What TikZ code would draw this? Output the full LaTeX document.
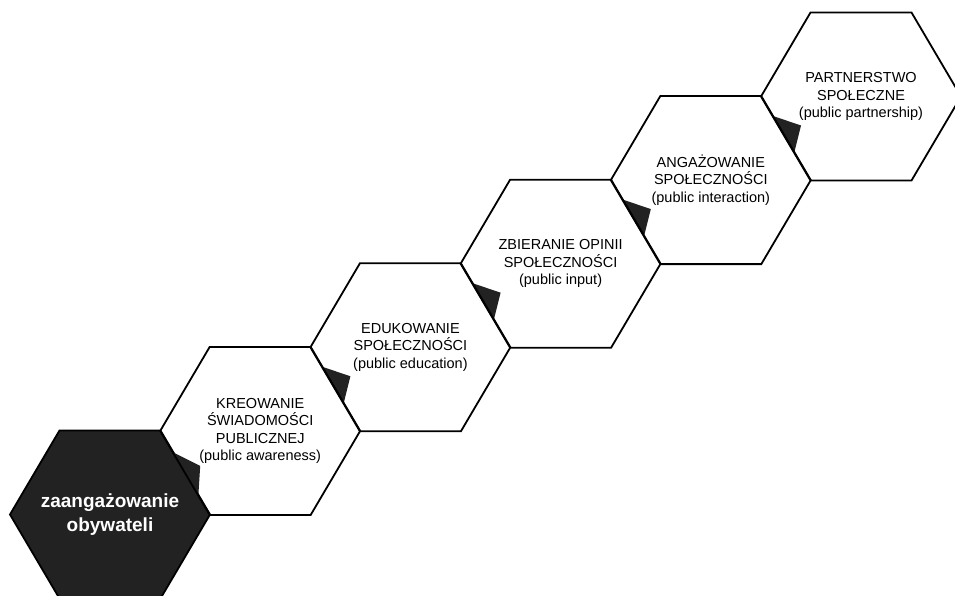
\documentclass[tikz,border=0pt]{standalone}
\usepackage{fontspec}
\setmainfont{Liberation Sans}
\usetikzlibrary{calc}
\definecolor{hexdark}{HTML}{222222}
\tikzset{
  hexagon/.pic={\path[pic actions] (-100,0) -- (-50.5,-84) -- (50.5,-84) -- (100,0) -- (50.5,84) -- (-50.5,84) -- cycle;},
  tailpic/.pic={\path[pic actions] (-88.6,19.3) -- (-60,29) -- (-66.8,56.3) -- cycle;},
  hexline/.style={draw=black, line width=1.8pt, line join=miter},
  hexdarkfill/.style={draw=black, line width=1.8pt, fill=hexdark},
  wedge/.style={fill=hexdark},
  hexlabel/.style={align=center, font=\fontsize{14.5}{17.5}\selectfont, text=black, inner sep=0pt},
  darklabel/.style={align=center, font=\fontsize{19}{24}\selectfont\bfseries, text=white, inner sep=0pt}
}
\begin{document}
\begin{tikzpicture}[x=1pt,y=-1pt]
\fill[white] (0,0) rectangle (955,596);
\clip (0,0) rectangle (955,596);
\foreach \i/\x/\y in {1/110/514.5, 2/260.2/430.9, 3/410.4/347.3, 4/560.6/263.7, 5/710.8/180.1, 6/861/96.5}
  \coordinate (c\i) at (\x,\y);
% dark hexagon
\pic[hexdarkfill] at (c1) {hexagon};
% wedges
\path[wedge] ($(c2)+(-88,21)$) -- ($(c2)+(-60,35)$) -- ($(c2)+(-62,67)$) -- cycle;
\foreach \i in {3,4,5,6} \pic[wedge] at (c\i) {tailpic};
% white hexagons
\foreach \i in {2,3,4,5,6} \pic[hexline] at (c\i) {hexagon};
% labels
\node[darklabel] (t1) at (c1) {zaangażowanie\\obywateli};
\node[hexlabel] (t2) at (c2) {KREOWANIE\\ŚWIADOMOŚCI\\PUBLICZNEJ\\(public awareness)};
\node[hexlabel] (t3) at (c3) {EDUKOWANIE\\SPOŁECZNOŚCI\\(public education)};
\node[hexlabel] (t4) at (c4) {ZBIERANIE OPINII\\SPOŁECZNOŚCI\\(public input)};
\node[hexlabel] (t5) at (c5) {ANGAŻOWANIE\\SPOŁECZNOŚCI\\(public interaction)};
\node[hexlabel] (t6) at (c6) {PARTNERSTWO\\SPOŁECZNE\\(public partnership)};
\end{tikzpicture}
\end{document}
